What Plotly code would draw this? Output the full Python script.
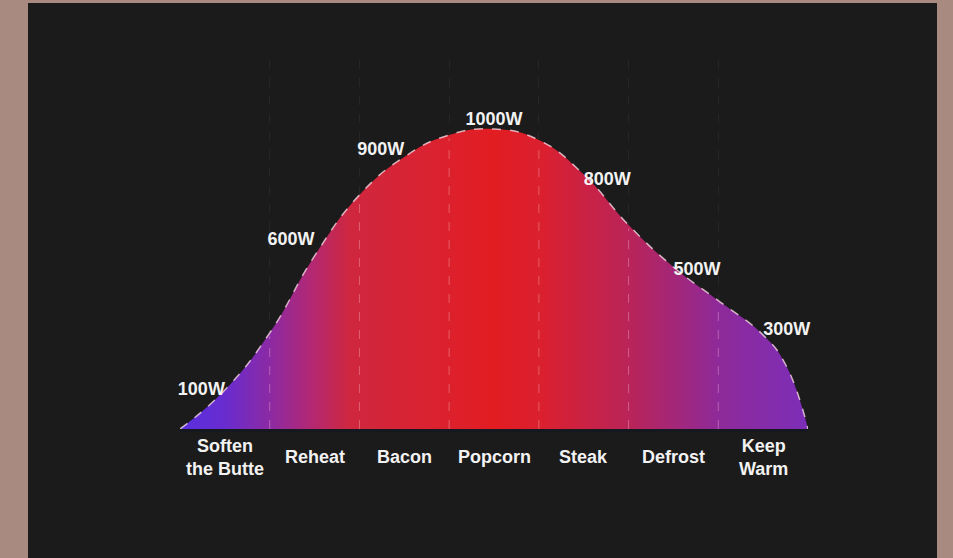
import numpy as np
import plotly.graph_objects as go

# ---------------- data ----------------
categories = ["Soften<br>the Butte", "Reheat", "Bacon", "Popcorn", "Steak", "Defrost", "Keep<br>Warm"]
wattage = [100, 600, 900, 1000, 800, 500, 300]
wattage_labels = ["100W", "600W", "900W", "1000W", "800W", "500W", "300W"]

# smooth outline of the power curve (category units on x, watts on y)
curve_x = [0, 0.5, 1.0, 1.5, 2.0, 2.5, 3.0, 3.5, 4.0, 4.5, 5.0, 5.5, 6.0, 6.5, 6.75, 7]
curve_y = [0, 130, 320, 577, 780, 907, 980, 1000, 963, 848, 680, 540, 428, 313, 215, 0]

# ---------------- figure ----------------
W, H = 953, 558
ML, MR, MT, MB = 180, 145, 60, 129
plot_w = W - ML - MR
plot_h = H - MT - MB
y_top = plot_h / 0.3  # 0.3 px per watt

font_family = "Liberation Sans, Arial, sans-serif"

fig = go.Figure()

# gradient-filled area with dashed outline
fig.add_trace(go.Scatter(
    x=curve_x, y=curve_y,
    mode="lines",
    line=dict(shape="spline", smoothing=1.3, color="rgba(255,225,235,0.75)", width=1.5, dash="dash"),
    fill="tozeroy",
    fillgradient=dict(
        type="horizontal",
        colorscale=[
            [0.00, "#5a2fe0"],
            [0.07, "#682ccf"],
            [0.14, "#8a2aa6"],
            [0.21, "#b32872"],
            [0.27, "#cf273f"],
            [0.40, "#da2230"],
            [0.50, "#e21d22"],
            [0.58, "#da2030"],
            [0.72, "#b8245a"],
            [0.86, "#8e2a9a"],
            [1.00, "#7c2eb8"],
        ],
    ),
    hoverinfo="skip",
    showlegend=False,
))

# dashed separators inside the filled area
boundaries = np.arange(1, len(categories))
tops = np.interp(boundaries, curve_x, curve_y) - 12
vx, vy = [], []
for b, t in zip(boundaries, tops):
    vx += [b, b, None]
    vy += [0, t, None]
fig.add_trace(go.Scatter(
    x=vx, y=vy, mode="lines",
    line=dict(color="rgba(255,215,225,0.33)", width=1, dash="dash"),
    hoverinfo="skip", showlegend=False,
))

# wattage labels
centers = np.arange(len(categories)) + 0.5
positions = ["top left", "top left", "top left", "top center", "top right", "top right", "top right"]
fig.add_trace(go.Scatter(
    x=centers, y=wattage, mode="text",
    text=wattage_labels, textposition=positions, cliponaxis=False,
    textfont=dict(family=font_family, size=18, color="#f2f2f2", weight="bold"),
    hoverinfo="skip", showlegend=False,
))

# category labels
for c, name in zip(centers, categories):
    fig.add_annotation(
        x=c, y=0, xref="x", yref="y", text=name, showarrow=False,
        yanchor="middle", yshift=-28,
        font=dict(family=font_family, size=18, color="#f2f2f2", weight="bold"),
    )

# dark panel on top of the brown border
fig.add_shape(
    type="rect", xref="paper", yref="paper", layer="below",
    x0=(28 - ML) / plot_w, x1=(937 - ML) / plot_w,
    y0=(MT + plot_h - H - 5) / plot_h, y1=(MT + plot_h - 3) / plot_h,
    fillcolor="#1b1b1b", line=dict(width=0),
)

fig.update_layout(
    width=W, height=H,
    margin=dict(l=ML, r=MR, t=MT, b=MB),
    paper_bgcolor="#a88a80",
    plot_bgcolor="rgba(0,0,0,0)",
    xaxis=dict(
        range=[0, len(categories)], tickvals=list(boundaries), showticklabels=False, ticks="",
        showgrid=True, gridcolor="rgba(255,255,255,0.05)", griddash="dash", gridwidth=1,
        zeroline=False, showline=True, linecolor="#15181f", linewidth=3, fixedrange=True,
    ),
    yaxis=dict(
        range=[0, y_top], showticklabels=False, ticks="", showgrid=False,
        zeroline=False, showline=False, fixedrange=True,
    ),
    showlegend=False,
)

fig.write_html(
    "out.html",
    config={"displayModeBar": False, "staticPlot": True},
    post_script="document.body.style.margin='0';document.body.style.overflow='hidden';",
)
